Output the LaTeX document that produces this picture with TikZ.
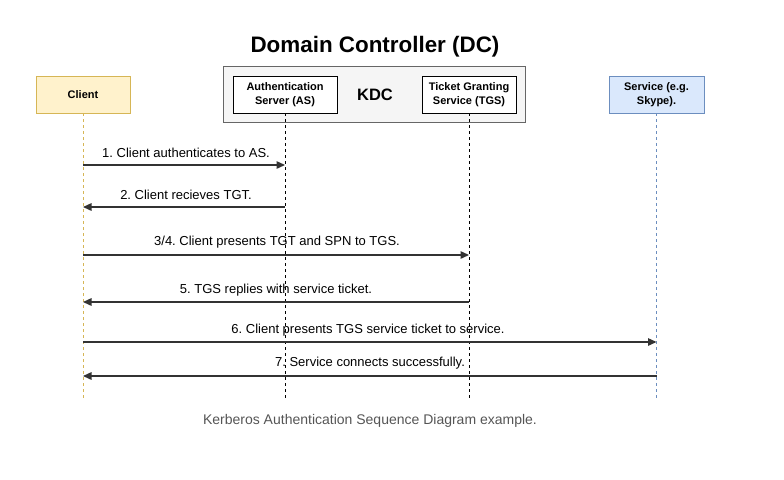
\documentclass[tikz,border=0pt]{standalone}
\usepackage{fontspec}
\setmainfont{Liberation Sans}
\usetikzlibrary{arrows.meta}
\frenchspacing
\definecolor{clfill}{HTML}{FFF2CC}
\definecolor{cldraw}{HTML}{D6B656}
\definecolor{svfill}{HTML}{DAE8FC}
\definecolor{svdraw}{HTML}{6C8EBF}
\definecolor{dcfill}{HTML}{F5F5F5}
\definecolor{dcdraw}{HTML}{666666}
\definecolor{msgcol}{HTML}{333333}
\definecolor{capcol}{HTML}{555555}
\tikzset{
  actor/.style={draw, line width=0.9pt, minimum height=37pt, inner sep=1pt, align=center,
    font=\fontsize{11}{14}\selectfont\bfseries},
  life/.style={dashed, dash pattern=on 3pt off 3pt, line width=0.8pt},
  msg/.style={draw=msgcol, line width=1.4pt, -{Triangle[length=8.5pt,width=7.5pt]}},
  msglabel/.style={font=\fontsize{13}{15}\selectfont, text=black, inner sep=0pt}
}
\begin{document}
\begin{tikzpicture}[x=1pt,y=-1pt]
\frenchspacing
\useasboundingbox (0,0) rectangle (784,479);
% title
\node[font=\fontsize{22.4}{24}\selectfont\bfseries, inner sep=0pt] (title) at (375,47) {Domain Controller (DC)};
% DC container
\node[draw=dcdraw, fill=dcfill, line width=1.3pt, minimum width=302pt, minimum height=56pt, inner sep=0pt] (dc) at (374.5,94.5) {};
\node[font=\fontsize{16.5}{18}\selectfont\bfseries, inner sep=0pt] (kdc) at (375,95) {KDC};
% actors
\node[actor, fill=clfill, draw=cldraw, minimum width=94pt] (client) at (83,94.5) {Client};
\node[actor, fill=white, draw=black, minimum width=104pt] (as) at (285,94.5) {Authentication\\Server (AS)};
\node[actor, fill=white, draw=black, minimum width=94pt] (tgs) at (469,94.5) {Ticket Granting\\Service (TGS)};
\node[actor, fill=svfill, draw=svdraw, minimum width=95pt] (svc) at (656.5,94.5) {Service (e.g.\\Skype).};
% lifeline ends
\coordinate (clEnd) at (83,398);
\coordinate (asEnd) at (285,398);
\coordinate (tgsEnd) at (469,398);
\coordinate (svcEnd) at (656.5,398);
\draw[life, draw=cldraw] (client.south) -- (clEnd);
\draw[life, draw=black] (as.south) -- (asEnd);
\draw[life, draw=black] (tgs.south) -- (tgsEnd);
\draw[life, draw=svdraw] (svc.south) -- (svcEnd);
% message rows
\coordinate (m1) at (0,165);
\coordinate (m2) at (0,207);
\coordinate (m3) at (0,255);
\coordinate (m5) at (0,302);
\coordinate (m6) at (0,342);
\coordinate (m7) at (0,376);
\draw[msg] (client.south |- m1) -- (as.south |- m1);
\draw[msg] (as.south |- m2) -- (client.south |- m2);
\draw[msg] (client.south |- m3) -- (tgs.south |- m3);
\draw[msg] (tgs.south |- m5) -- (client.south |- m5);
\draw[msg] (client.south |- m6) -- (svc.south |- m6);
\draw[msg] (svc.south |- m7) -- (client.south |- m7);
% labels
\node[msglabel] (l1) at (186,153) {1. Client authenticates to AS.};
\node[msglabel] (l2) at (186,195) {2. Client recieves TGT.};
\node[msglabel] (l3) at (277,242) {3/4. Client presents TGT and SPN to TGS.};
\node[msglabel] (l5) at (276,290) {5. TGS replies with service ticket.};
\node[msglabel] (l6) at (368,330) {6. Client presents TGS service ticket to service.};
\node[msglabel] (l7) at (370,363) {7. Service connects successfully.};
% caption
\node[font=\fontsize{14}{16}\selectfont, text=capcol, inner sep=0pt] (cap) at (370,421) {Kerberos Authentication Sequence Diagram example.};
\end{tikzpicture}
\end{document}
